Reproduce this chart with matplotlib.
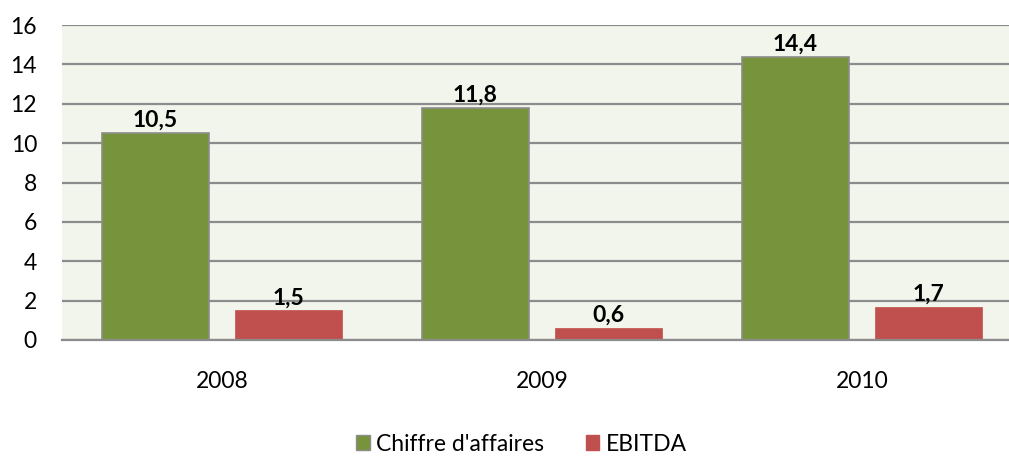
import matplotlib
matplotlib.use("Agg")
import matplotlib.pyplot as plt
import numpy as np
from matplotlib.patches import Patch

years = ["2008", "2009", "2010"]
chiffre = [10.5, 11.8, 14.4]
ebitda = [1.5, 0.6, 1.7]
series_names = ["Chiffre d'affaires", "EBITDA"]
yticks = [0, 2, 4, 6, 8, 10, 12, 14, 16]

plt.rcParams['font.family'] = ['Lato', 'DejaVu Sans']

fig = plt.figure(figsize=(10.09, 4.57), dpi=100)
ax = fig.add_axes([62/1009, 117/457, 960/1009, 315/457])
ax.set_facecolor('#F2F5EC')

x = np.arange(len(years))
w = 0.334
off = 0.208
green = '#77933C'
red = '#C0504D'
b1 = ax.bar(x - off, chiffre, w, color=green, edgecolor='#8C8C8C', linewidth=1.2, zorder=3)
b2 = ax.bar(x + off, ebitda, w, color=red, edgecolor=red, linewidth=0.5, zorder=3)

for bars, vals in ((b1, chiffre), (b2, ebitda)):
    for r, v in zip(bars, vals):
        ax.annotate(f"{v:.1f}".replace('.', ','), (r.get_x() + r.get_width()/2, v),
                    xytext=(0, 4.5), textcoords='offset points', ha='center', va='baseline',
                    fontsize=16.5, fontweight='bold', color='black', zorder=4)

ax.set_xlim(-0.5, 2.5)
ax.set_ylim(0, 16)
ax.set_yticks(yticks)
ax.set_xticks(x)
ax.set_xticklabels(years)
ax.yaxis.grid(True, color='#8C8C8C', linewidth=1.6, zorder=1)
ax.set_axisbelow(True)
for s in ['top', 'right', 'left']:
    ax.spines[s].set_visible(False)
ax.spines['bottom'].set_color('#8C8C8C')
ax.spines['bottom'].set_linewidth(1.6)
ax.spines['bottom'].set_zorder(5)
ax.tick_params(axis='both', length=0, labelsize=16.5)
ax.tick_params(axis='y', pad=18)
ax.tick_params(axis='x', pad=22)

handles = [Patch(facecolor=green, edgecolor='#8C8C8C'), Patch(facecolor=red, edgecolor=red)]
fig.legend(handles, series_names, loc='center', bbox_to_anchor=(0.517, 0.028), ncol=2,
           frameon=False, fontsize=16.5, handlelength=0.6, handleheight=0.6,
           handletextpad=0.3, columnspacing=1.8)

fig.savefig('out.png', dpi=100)
